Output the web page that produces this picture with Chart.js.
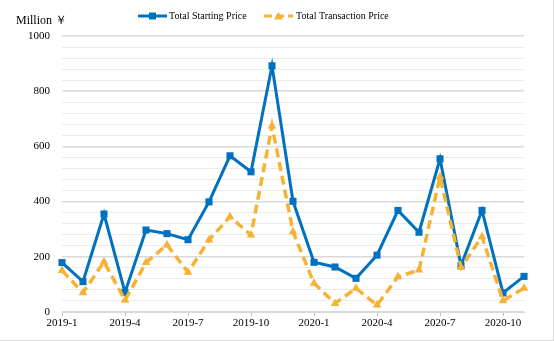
<!DOCTYPE html>
<html>
<head>
<meta charset="utf-8">
<script src="https://cdn.jsdelivr.net/npm/chart.js@4"></script>
<style>
  body { margin: 0; background: #fff; }
  #wrap { position: relative; width: 553px; height: 340px; border-right: 1px solid #d9d9d9; border-bottom: 1px solid #d9d9d9; }
</style>
</head>
<body>
<div id="wrap"><canvas id="myChart" width="554" height="341"></canvas></div>
<script>
/*
 * DATA
 */
	var months = ["2019-1", "2019-2", "2019-3", "2019-4", "2019-5", "2019-6", "2019-7", "2019-8",
		"2019-9", "2019-10", "2019-11", "2019-12", "2020-1", "2020-2", "2020-3", "2020-4",
		"2020-5", "2020-6", "2020-7", "2020-8", "2020-9", "2020-10", "2020-11"];
	var startingPrice = [179, 110, 355, 71, 297, 284, 262, 399, 566, 508, 892, 401,
		180, 163, 122, 206, 368, 289, 555, 168, 368, 69, 129];
	var transactionPrice = [150, 70, 182, 43, 179, 243, 144, 261, 345, 279, 674, 291,
		104, 31, 86, 25, 128, 152, 490, 162, 273, 41, 86];
	var seriesNames = ["Total Starting Price", "Total Transaction Price"];
	var yTicks = [0, 200, 400, 600, 800, 1000];

	var BLUE = '#0070C0';
	var GOLD = '#F5B335';
	var FONT = '"Liberation Serif", "Times New Roman", serif';

/*
 * LEGEND + AXIS TITLE
 */
	var headerPlugin = {
		id: 'header',
		afterDraw: function(chart) {
			var ctx = chart.ctx;
			ctx.save();
			ctx.font = '12px ' + FONT;
			ctx.fillStyle = '#000';
			ctx.textBaseline = 'middle';
			ctx.fillText('Million \uFFE5', 16, 21);

			ctx.font = '10px ' + FONT;
			// starting price item
			ctx.strokeStyle = BLUE;
			ctx.lineWidth = 3;
			ctx.beginPath(); ctx.moveTo(138, 16); ctx.lineTo(167, 16); ctx.stroke();
			ctx.fillStyle = BLUE;
			ctx.fillRect(149, 12.5, 7, 7);
			ctx.fillStyle = '#000';
			ctx.fillText(seriesNames[0], 169, 16);

			// transaction price item
			ctx.strokeStyle = GOLD;
			ctx.lineWidth = 3;
			ctx.setLineDash([8, 4]);
			ctx.beginPath(); ctx.moveTo(264, 16); ctx.lineTo(293, 16); ctx.stroke();
			ctx.setLineDash([]);
			ctx.fillStyle = GOLD;
			ctx.beginPath(); ctx.moveTo(278.5, 12); ctx.lineTo(283, 19.5); ctx.lineTo(274, 19.5); ctx.closePath(); ctx.fill();
			ctx.fillStyle = '#000';
			ctx.fillText(seriesNames[1], 296, 16);
			ctx.restore();
		}
	};

/*
 * CHART
 */
	var myChart = new Chart(document.getElementById('myChart'), {
		type: 'line',
		data: {
			labels: months,
			datasets: [{
				label: seriesNames[1],
				data: transactionPrice,
				borderColor: GOLD,
				backgroundColor: GOLD,
				borderWidth: 3.5,
				borderDash: [9, 5],
				pointStyle: 'triangle',
				pointRadius: 5,
				pointBorderWidth: 0,
				tension: 0,
				order: 0
			}, {
				label: seriesNames[0],
				data: startingPrice,
				borderColor: BLUE,
				backgroundColor: BLUE,
				borderWidth: 3,
				pointStyle: 'rect',
				pointRadius: 5,
				pointBorderWidth: 0,
				tension: 0,
				order: 1
			}]
		},
		options: {
			responsive: false,
			animation: false,
			layout: { padding: { top: 36, right: 30, left: 0, bottom: 0 } },
			plugins: {
				legend: { display: false },
				tooltip: { enabled: false }
			},
			scales: {
				x: {
					offset: false,
					afterFit: function(scale) { scale.height = 29; },
					border: { display: true, color: '#d9d9d9', width: 1 },
					grid: {
						drawOnChartArea: false,
						drawTicks: true,
						tickLength: 4,
						color: function(c) { return c.index % 3 === 0 ? '#bfbfbf' : 'rgba(0,0,0,0)'; }
					},
					ticks: {
						autoSkip: false,
						maxRotation: 0,
						padding: 1,
						color: '#000',
						font: { family: FONT, size: 11 },
						callback: function(v, i) { return i % 3 === 0 ? months[i] : ''; }
					}
				},
				y: {
					min: yTicks[0],
					max: yTicks[yTicks.length - 1],
					afterFit: function(scale) { scale.width = 62; },
					border: { display: false },
					grid: {
						drawTicks: false,
						color: function(c) { return c.tick.value % 200 === 0 ? '#d9d9d9' : '#ebebeb'; },
						lineWidth: function(c) { return c.tick.value % 200 === 0 ? 1.5 : 1; }
					},
					ticks: {
						stepSize: 40,
						autoSkip: false,
						padding: 12,
						color: '#000',
						font: { family: FONT, size: 11 },
						callback: function(v) { return yTicks.indexOf(v) >= 0 ? v : ''; }
					}
				}
			}
		},
		plugins: [headerPlugin]
	});
</script>
</body>
</html>
